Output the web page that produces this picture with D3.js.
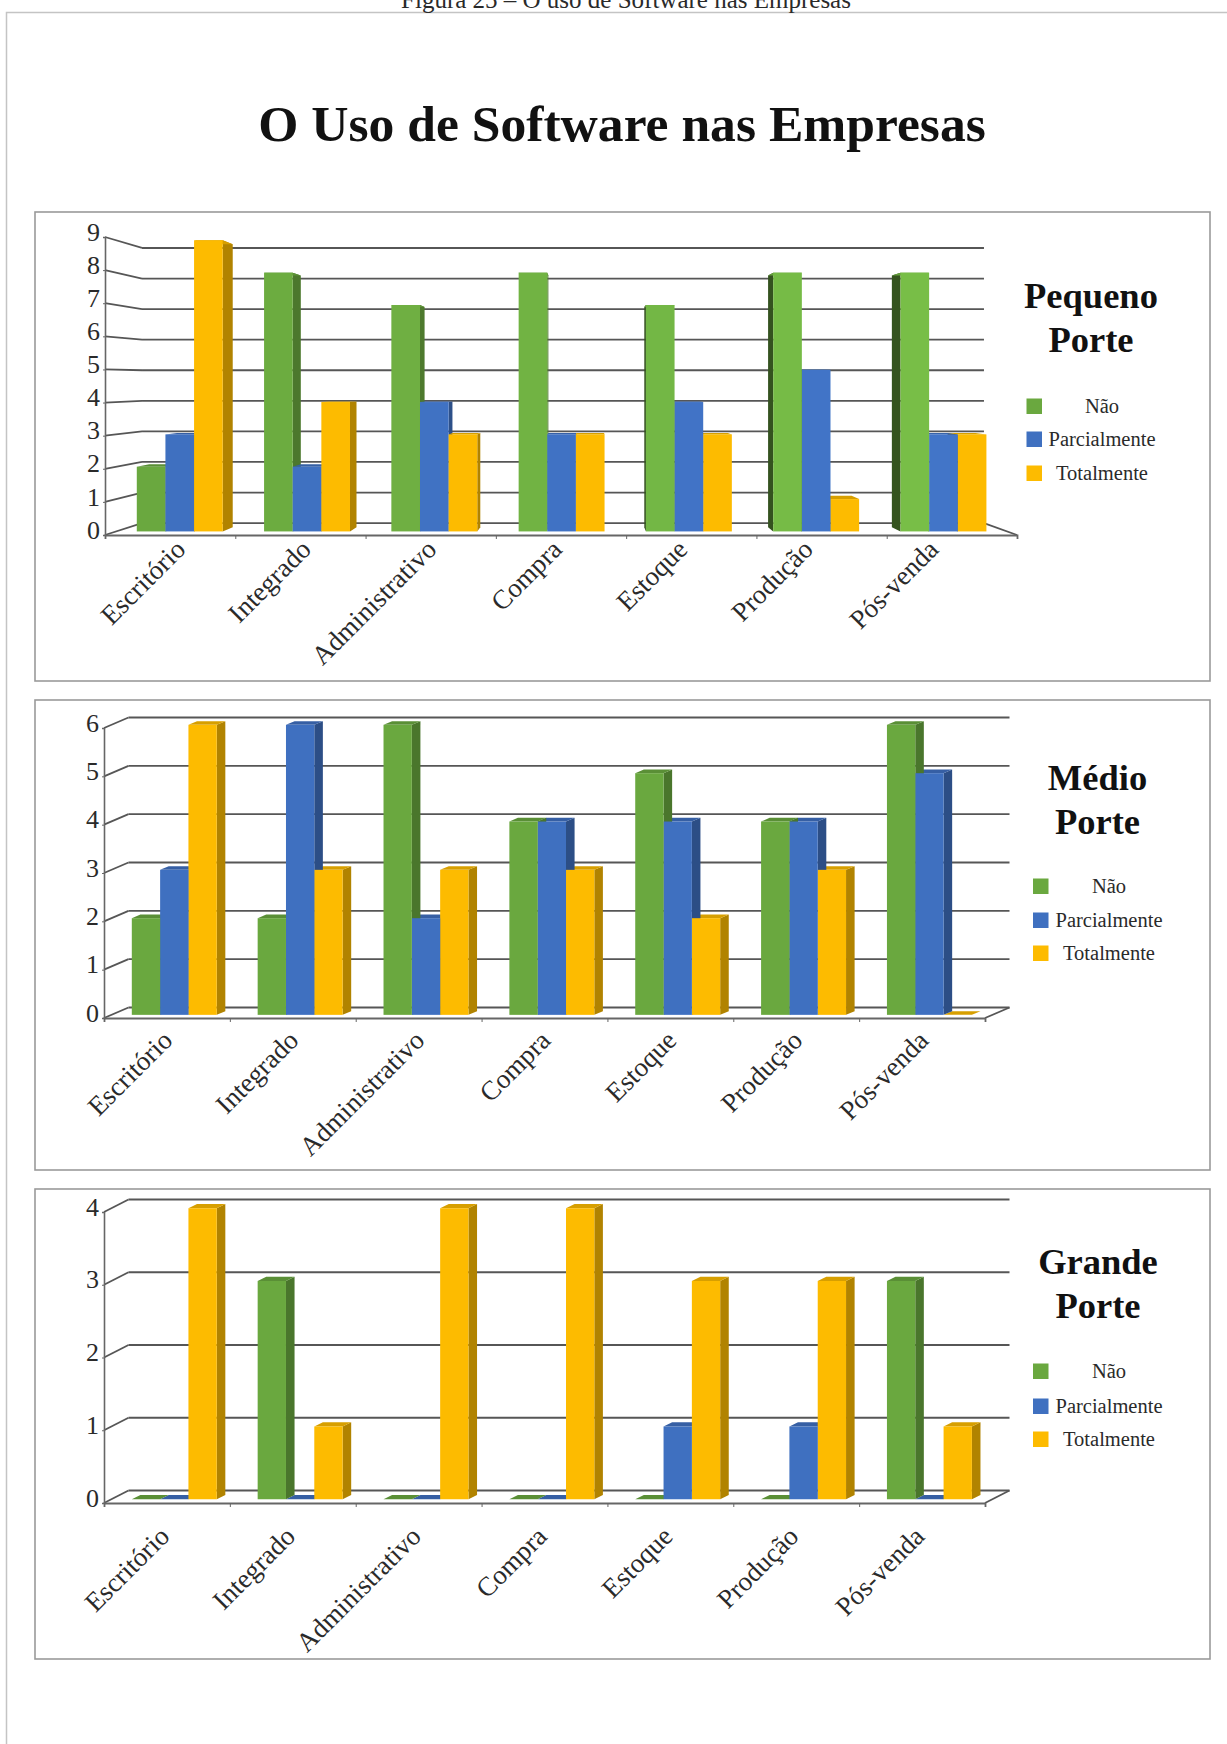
<!DOCTYPE html>
<html lang="pt">
<head>
<meta charset="utf-8">
<title>O Uso de Software nas Empresas</title>
<script src="https://cdnjs.cloudflare.com/ajax/libs/d3/7.8.5/d3.min.js"></script>
<style>
  html, body { margin: 0; padding: 0; background: #fff; }
  svg { display: block; overflow: hidden; }
  text { font-family: "Liberation Serif", "Times New Roman", serif; fill: #2a2a2a; }
</style>
</head>
<body>
<svg id="page" width="1227" height="1744"></svg>
<script>
// Categories and series shared by the three company sizes
const categories = ["Escritório", "Integrado", "Administrativo", "Compra", "Estoque", "Produção", "Pós-venda"];
const seriesNames = ["Não", "Parcialmente", "Totalmente"];
const seriesColors = ["#6aa83f", "#3f70c0", "#fdbb00"];

// Number of companies answering per series
const pequenoNao = [2, 8, 7, 8, 7, 8, 8];
const pequenoParcial = [3, 2, 4, 3, 4, 5, 3];
const pequenoTotal = [9, 4, 3, 3, 3, 1, 3];

const medioNao = [2, 2, 6, 4, 5, 4, 6];
const medioParcial = [3, 6, 2, 4, 4, 4, 5];
const medioTotal = [6, 3, 3, 3, 2, 3, 0];

const grandeNao = [0, 3, 0, 0, 0, 0, 3];
const grandeParcial = [0, 0, 0, 0, 1, 1, 0];
const grandeTotal = [4, 1, 4, 4, 3, 3, 1];

const pageTitle = "O Uso de Software nas Empresas";
const caption = "Figura 25 – O uso de Software nas Empresas";

// Layout of each panel: box, front plane of the plot, depth projection, labels and legend
const panels = [
  {
    name: ["Pequeno", "Porte"], values: [pequenoNao, pequenoParcial, pequenoTotal], max: 9,
    box: [35, 212, 1210, 681], x: [105, 1017], y: [535, 237],
    perspective: { cx: 587, cy: 380, k: 0.0768 },
    catEnd: [187, 940], catY: 551,
    nameX: 1091, nameY: [308, 352],
    swatchX: 1026.5, legendX: 1102, legendY: [413, 446, 480]
  },
  {
    name: ["Médio", "Porte"], values: [medioNao, medioParcial, medioTotal], max: 6,
    box: [35, 700, 1210, 1170], x: [104, 985], y: [1018, 728],
    oblique: { dx: 24.5, dy: 10.5 },
    catEnd: [174, 930], catY: 1042,
    nameX: 1097.5, nameY: [790, 834],
    swatchX: 1033, legendX: 1109, legendY: [893, 927, 960]
  },
  {
    name: ["Grande", "Porte"], values: [grandeNao, grandeParcial, grandeTotal], max: 4,
    box: [35, 1189, 1210, 1659], x: [104, 985], y: [1503, 1212],
    oblique: { dx: 24.5, dy: 12.5 },
    catEnd: [171, 926], catY: 1538,
    nameX: 1098, nameY: [1274, 1318],
    swatchX: 1033, legendX: 1109, legendY: [1378, 1413, 1446]
  }
];

const DEPTH_FRONT = 0.3, DEPTH_BACK = 0.65;
const LIGHT_GAIN = [0.35, 0.12, 0];
const svg = d3.select("#page");

// Sheet outline and headings
svg.append("path").attr("d", "M6.5,1744V12.5H1227").attr("fill", "none")
  .attr("stroke", "#c4c4c4").attr("stroke-width", 1.5);
svg.append("text").attr("x", 626).attr("y", 8).attr("text-anchor", "middle")
  .attr("font-size", 25).text(caption);
svg.append("text").attr("x", 622).attr("y", 141).attr("text-anchor", "middle")
  .attr("font-size", 51.6).attr("font-weight", "bold").style("fill", "#111").text(pageTitle);

panels.forEach(drawPanel);

function drawPanel(p) {
  const g = svg.append("g");
  const [bx0, by0, bx1, by1] = p.box;
  g.append("rect").attr("x", bx0).attr("y", by0).attr("width", bx1 - bx0).attr("height", by1 - by0)
    .attr("fill", "#fff").attr("stroke", "#9a9a9a").attr("stroke-width", 1.6);

  const y = d3.scaleLinear().domain([0, p.max]).range(p.y);
  const band = d3.scaleBand().domain(categories).range(p.x).paddingInner(0.325).paddingOuter(0.1625);
  const sub = d3.scaleBand().domain(seriesNames).range([0, band.bandwidth()]);

  // Maps a point of the front plane to a depth between 0 (front) and 1 (back wall)
  const project = p.perspective
    ? (px, py, d) => [px + (p.perspective.cx - px) * p.perspective.k * d,
                      py + (p.perspective.cy - py) * p.perspective.k * d]
    : (px, py, d) => [px + p.oblique.dx * d, py - p.oblique.dy * d];
  const vanishX = p.perspective ? p.perspective.cx : Infinity;

  const line = d3.line();
  const gridColor = "#565656";
  const ticks = d3.range(0, p.max + 1);

  // Back wall lines and their links to the value axis
  const wall = g.append("g").attr("fill", "none").attr("stroke", gridColor).attr("stroke-width", 1.8);
  wall.selectAll("path.grid").data(ticks).join("path").attr("class", "grid")
    .attr("d", v => line([project(p.x[0], y(v), 1), project(p.x[1], y(v), 1)]));
  wall.selectAll("path.link").data(ticks).join("path").attr("class", "link")
    .attr("d", v => line([[p.x[0], y(v)], project(p.x[0], y(v), 1)]));
  wall.append("path").attr("d", line([[p.x[1], y(0)], project(p.x[1], y(0), 1)]));

  // Value axis
  const axisY = g.append("g").attr("transform", `translate(${p.x[0]},0)`)
    .call(d3.axisLeft(y).tickValues(ticks).tickFormat(d3.format("d")).tickSize(2).tickPadding(3));
  axisY.select(".domain").attr("stroke", "#666").attr("stroke-width", 1.6);
  axisY.selectAll(".tick line").attr("stroke", "#666");
  axisY.selectAll("text").attr("font-size", 26).attr("dy", "0.12em");

  // Category axis with ticks on the boundaries between categories
  const bounds = d3.scalePoint().domain(d3.range(categories.length + 1)).range(p.x);
  const axisX = g.append("g").attr("transform", `translate(0,${p.y[0]})`)
    .call(d3.axisBottom(bounds).tickSize(4).tickFormat(""));
  axisX.select(".domain").attr("stroke", "#666").attr("stroke-width", 1.8);
  axisX.selectAll(".tick line").attr("stroke", "#666");

  // One record per bar, painted from the outside towards the vanishing side
  const bars = [];
  seriesNames.forEach((s, si) => categories.forEach((c, ci) => {
    const x0 = band(c) + sub(s), x1 = x0 + sub.bandwidth();
    bars.push({ si, ci, x0, x1, value: p.values[si][ci] });
  }));
  const gap = b => Math.abs(vanishX === Infinity ? -b.x0 : vanishX - (b.x0 + b.x1) / 2);
  bars.sort((a, b) => d3.descending(gap(a), gap(b)));

  // Bars further along a perspective panel catch more light
  const frontColor = b => {
    const base = seriesColors[b.si];
    if (!p.perspective) return base;
    return d3.interpolateRgb(base, d3.color(base).brighter(LIGHT_GAIN[b.si]))(b.ci / 6);
  };

  const polygon = pts => line(pts) + "Z";
  const barLayer = g.append("g");
  bars.forEach(b => {
    const top = y(b.value), base = y(0);
    const rightSide = b.x1 < vanishX;
    const sx = rightSide ? b.x1 : b.x0;
    const shade = d3.color(frontColor(b)).darker(rightSide ? 1 : 2.3).formatHex();
    barLayer.append("path").attr("fill", shade).attr("d", polygon([
      project(sx, top, DEPTH_FRONT), project(sx, top, DEPTH_BACK),
      project(sx, base, DEPTH_BACK), project(sx, base, DEPTH_FRONT)
    ]));
    barLayer.append("path").attr("fill", d3.color(frontColor(b)).darker(0.45).formatHex()).attr("d", polygon([
      project(b.x0, top, DEPTH_FRONT), project(b.x1, top, DEPTH_FRONT),
      project(b.x1, top, DEPTH_BACK), project(b.x0, top, DEPTH_BACK)
    ]));
  });
  bars.filter(b => b.value > 0).forEach(b => {
    const a = project(b.x0, y(b.value), DEPTH_FRONT), c = project(b.x1, y(0), DEPTH_FRONT);
    barLayer.append("rect").attr("x", a[0]).attr("y", a[1])
      .attr("width", c[0] - a[0]).attr("height", c[1] - a[1]).attr("fill", frontColor(b));
  });

  // Slanted category labels
  const catX = d3.scalePoint().domain(categories).range(p.catEnd);
  g.append("g").selectAll("text").data(categories).join("text")
    .attr("text-anchor", "end").attr("font-size", 27)
    .attr("transform", c => `translate(${catX(c)},${p.catY}) rotate(-45)`)
    .text(c => c);

  // Panel name and legend
  g.append("g").selectAll("text").data(p.name).join("text")
    .attr("x", p.nameX).attr("y", (d, i) => p.nameY[i]).attr("text-anchor", "middle")
    .attr("font-size", 36.5).attr("font-weight", "bold").style("fill", "#111").text(d => d);

  const legend = g.append("g");
  legend.selectAll("rect").data(seriesNames).join("rect")
    .attr("x", p.swatchX).attr("y", (d, i) => p.legendY[i] - 14.5)
    .attr("width", 15.5).attr("height", 15.5).attr("fill", (d, i) => seriesColors[i]);
  legend.selectAll("text").data(seriesNames).join("text")
    .attr("x", p.legendX).attr("y", (d, i) => p.legendY[i]).attr("text-anchor", "middle")
    .attr("font-size", 20.5).text(d => d);
}
</script>
</body>
</html>
